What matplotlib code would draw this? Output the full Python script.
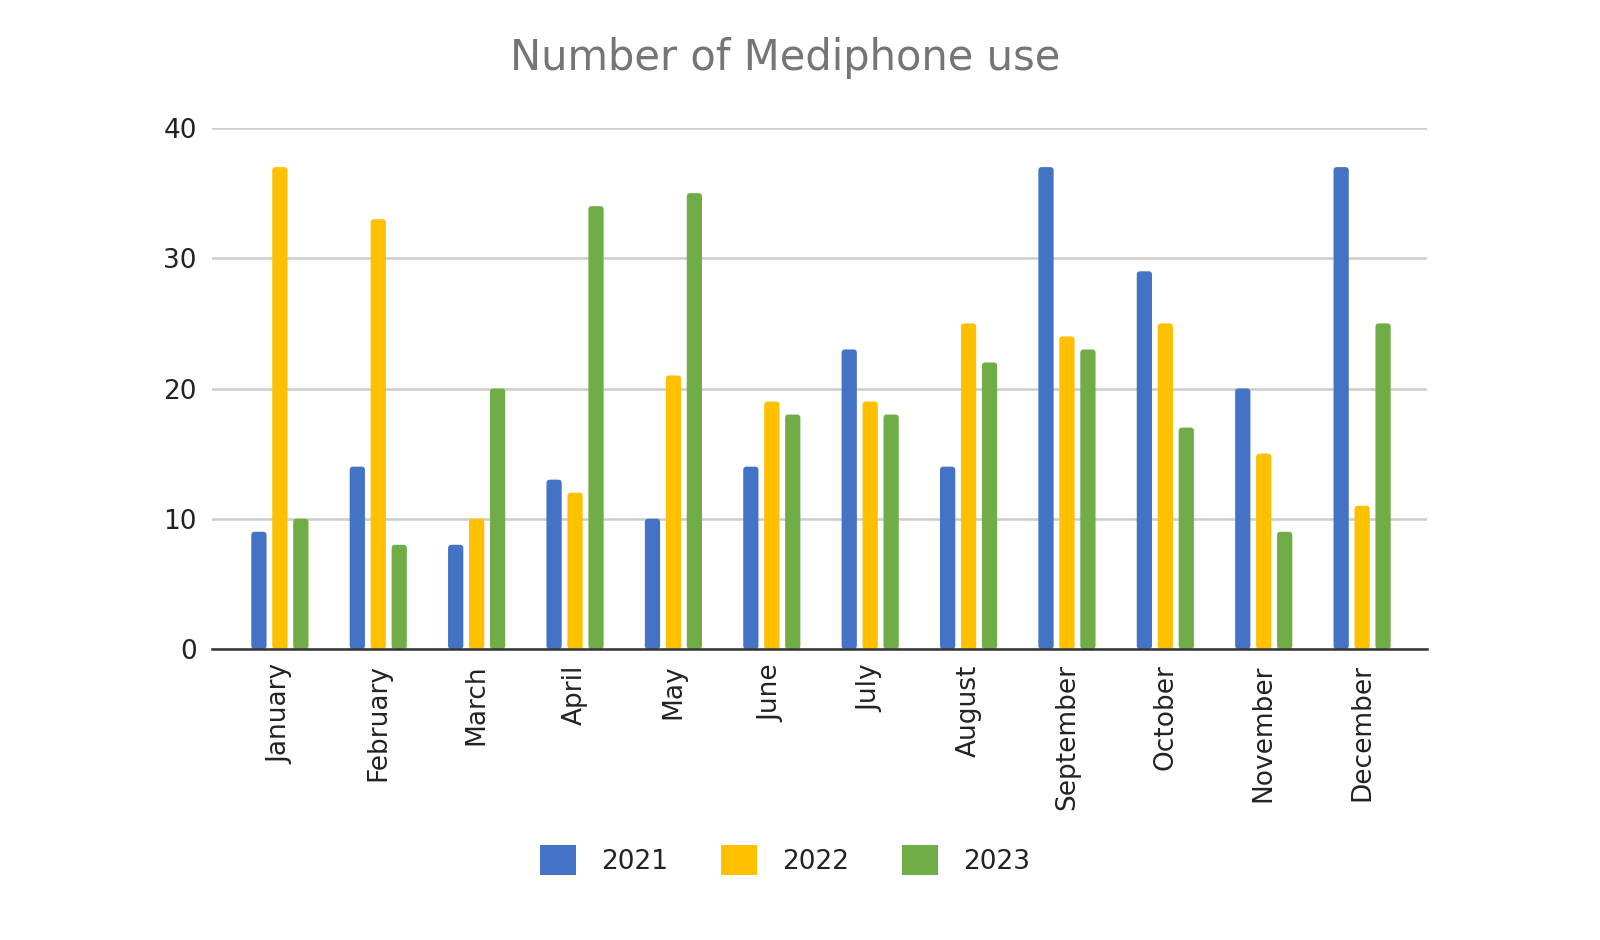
import matplotlib
matplotlib.use("Agg")
import matplotlib.pyplot as plt
from matplotlib.patches import FancyBboxPatch, Patch
import numpy as np

plt.rcParams["font.family"] = ["DejaVu Sans"]

months = ["January", "February", "March", "April", "May", "June",
          "July", "August", "September", "October", "November", "December"]
years = ["2021", "2022", "2023"]
use_2021 = [9, 14, 8, 13, 10, 14, 23, 14, 37, 29, 20, 37]
use_2022 = [37, 33, 10, 12, 21, 19, 19, 25, 24, 25, 15, 11]
use_2023 = [10, 8, 20, 34, 35, 18, 18, 22, 23, 17, 9, 25]
colors = ["#4472C4", "#FFC000", "#70AD47"]

fig = plt.figure(figsize=(16, 9.4), dpi=100)
ax = fig.add_axes([0.1325, 0.3096, 0.7594, 0.5542])

x = np.arange(len(months))
width = 0.155
offset = 0.213
for i, (vals, col) in enumerate(zip([use_2021, use_2022, use_2023], colors)):
    bars = ax.bar(x + (i - 1) * offset, vals, width, color=col, zorder=3)
    # swap plain rectangles for slightly rounded ones
    for rect in bars.patches:
        rect.set_visible(False)
        rb = FancyBboxPatch((rect.get_x(), rect.get_y()), rect.get_width(), rect.get_height(),
                            boxstyle="round,pad=0,rounding_size=0.035",
                            mutation_aspect=7.5, facecolor=col, edgecolor="none", zorder=3)
        ax.add_patch(rb)

ax.set_xlim(-0.69, 11.66)
ax.set_ylim(0, 40)
ax.set_yticks([0, 10, 20, 30, 40])
ax.yaxis.grid(True, color="#cccccc", linewidth=1.8, zorder=0)
ax.set_axisbelow(True)
for side in ["top", "right", "left"]:
    ax.spines[side].set_visible(False)
ax.spines["bottom"].set_color("#333333")
ax.spines["bottom"].set_linewidth(1.8)
ax.spines["bottom"].set_zorder(4)
ax.tick_params(axis="both", length=0, labelsize=19, colors="#222222")
ax.tick_params(axis="y", pad=11)
ax.tick_params(axis="x", pad=11)
ax.set_xticks(x)
ax.set_xticklabels(months, rotation=90, va="top", ha="center")

fig.text(785 / 1600, 1 - 58 / 940, "Number of Mediphone use", ha="center", va="center",
         fontsize=30, color="#757575")

handles = [Patch(facecolor=c, edgecolor="none") for c in colors]
fig.legend(handles, years, loc="center", bbox_to_anchor=(785 / 1600, 1 - 860 / 940),
           ncol=3, frameon=False, fontsize=19, handlelength=1.36, handleheight=1.36,
           handletextpad=0.95, columnspacing=2.0, labelcolor="#222222")

fig.savefig("out.png", dpi=100, facecolor="white")
